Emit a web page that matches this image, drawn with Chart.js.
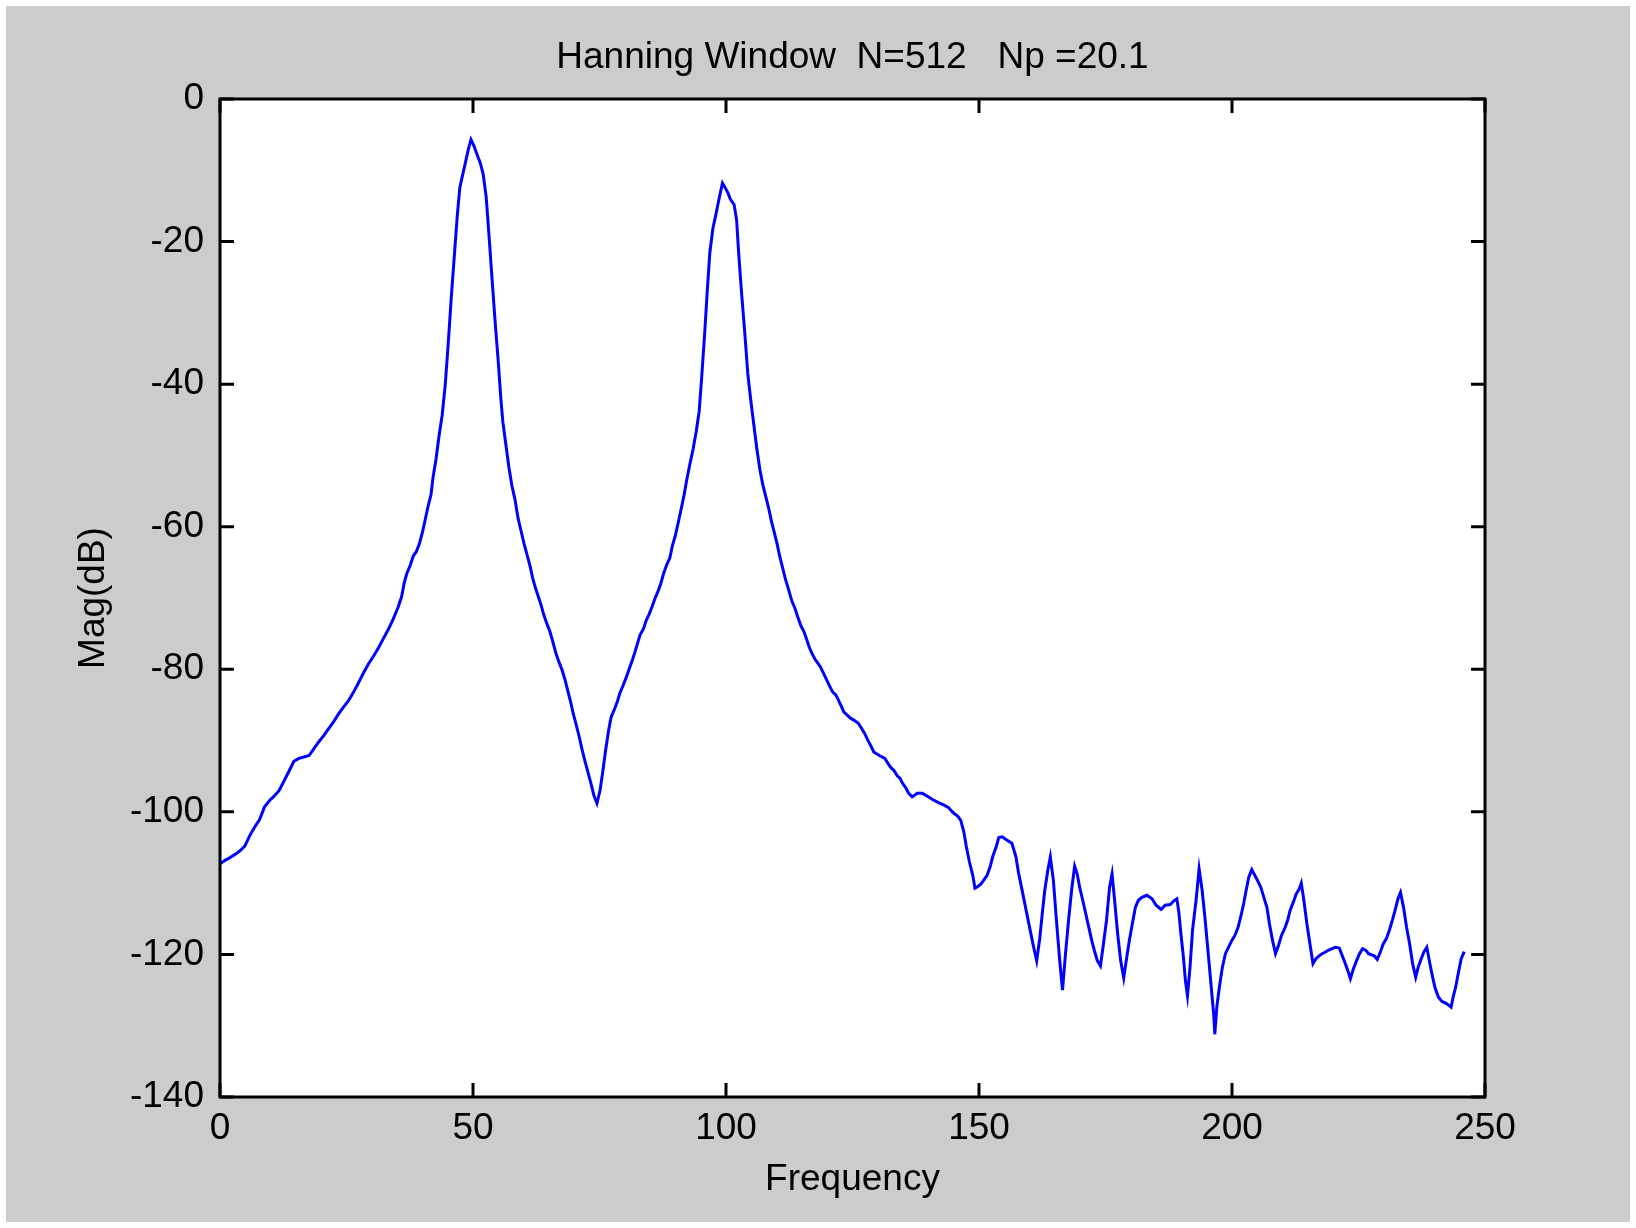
<!DOCTYPE html>
<html>
<head>
<meta charset="utf-8">
<title>Hanning Window</title>
<script src="https://cdn.jsdelivr.net/npm/chart.js@4.4.1/dist/chart.umd.min.js"></script>
<style>
  html, body { margin: 0; padding: 0; background: #fff; }
  #wrap { width: 1636px; height: 1228px; }
</style>
</head>
<body>
<div id="wrap"><canvas id="spec" width="1636" height="1228"></canvas></div>
<script>
const TITLE   = 'Hanning Window  N=512   Np =20.1';
const X_LABEL = 'Frequency';
const Y_LABEL = 'Mag(dB)';
const X_TICKS = [0, 50, 100, 150, 200, 250];
const Y_TICKS = [0, -20, -40, -60, -80, -100, -120, -140];

// Hz
const freq = [
  0, 1.0, 2.0, 2.9, 3.9, 4.9, 5.9, 6.8, 7.8, 8.8, 9.8, 10.7, 11.7, 12.7, 13.7, 14.6, 15.6, 16.6, 17.6, 18.6, 19.5,
  20.5, 21.5, 22.5, 23.4, 24.4, 25.4, 26.4, 27.3, 28.3, 29.3, 30.3, 31.3, 32.2, 33.2, 34.2, 35.2,
  35.9, 36.4, 36.9, 37.6, 38.2, 38.8, 39.4, 40.0, 40.5, 41.1, 41.7, 42.1, 42.7, 43.3, 43.9, 44.5, 45.1, 45.7,
  46.3, 46.9, 47.4, 48.0, 48.6, 49.1, 49.6, 50.2, 50.8, 51.4, 52.0, 52.6, 53.2, 53.8, 54.4, 55.0, 55.5, 55.9,
  56.5, 57.1, 57.7, 58.3, 58.9, 59.5, 60.1, 60.7, 61.3, 61.8, 62.3, 62.9, 63.5, 64.0, 64.6, 65.2, 65.8, 66.4,
  67.0, 67.6, 68.2, 68.8, 69.3, 69.8, 70.4, 71.0, 71.5, 72.1, 72.7, 73.3, 73.9, 74.5, 75.1, 75.6, 76.2, 76.8,
  77.3, 77.9, 78.5, 79.0, 79.7, 80.3, 80.9, 81.5, 82.0, 82.5, 83.0, 83.7, 84.2, 84.8, 85.4, 86.0, 86.6, 87.1,
  87.7, 88.3, 88.9, 89.4, 90.0, 90.6, 91.2, 91.7, 92.3, 92.9, 93.5, 94.1, 94.7, 95.2, 95.8, 96.3, 96.8, 97.4,
  98.0, 98.6, 99.3, 99.8, 100.4, 100.9, 101.6, 102.1, 102.5, 103.1, 103.7, 104.3, 104.9, 105.5, 106.1, 106.7,
  107.3, 107.9, 108.5, 109.0, 109.5, 110.1, 110.6, 111.2, 111.8, 112.4, 113.0, 113.6, 114.2, 114.8, 115.4,
  115.9, 116.4, 117.0, 117.6, 118.1, 118.7, 119.3, 119.9, 120.5, 121.1, 121.7, 122.2, 122.8, 123.3, 123.9,
  124.5, 125.4, 126.2, 126.8, 127.4, 128.0, 128.6, 129.2, 130.3, 131.4, 132.0, 132.6, 133.2, 133.8, 134.4,
  134.9, 135.5, 136.1, 136.8, 137.8, 138.8, 139.8, 140.9, 142.0, 143.2, 144.0, 144.6, 145.2, 145.8, 146.4,
  147.0, 147.5, 148.1, 148.8, 149.2, 149.7, 150.4, 150.9, 151.6, 152.2, 152.7, 153.4, 153.9, 154.6, 155.4,
  156.5, 157.3, 157.8, 158.4, 159.0, 159.6, 160.2, 160.8, 161.4, 162.0, 162.5, 163.0, 163.6, 164.1, 164.7,
  165.3, 165.9, 166.5, 167.1, 167.7, 168.3, 168.9, 169.4, 169.9, 170.5, 171.1, 171.7, 172.3, 172.9, 173.4,
  174.0, 174.6, 175.2, 175.8, 176.3, 176.8, 177.4, 178.0, 178.6, 179.2, 179.7, 180.3, 180.9, 181.5, 182.2,
  183.2, 184.2, 185.0, 186.0, 186.8, 187.8, 188.5, 189.1, 189.5, 189.9, 190.4, 190.8, 191.2, 191.7, 192.2,
  192.9, 193.5, 194.1, 194.7, 195.3, 195.9, 196.4, 196.6, 197.0, 197.5, 198.1, 198.7, 199.3, 200.0, 200.6,
  201.2, 201.8, 202.3, 202.8, 203.3, 203.9, 204.5, 205.1, 205.7, 206.3, 206.9, 207.4, 208.0, 208.6, 209.2,
  209.8, 210.4, 211.0, 211.5, 212.1, 212.7, 213.3, 213.7, 214.2, 214.8, 215.4, 216.0, 216.6, 217.2, 217.8,
  218.4, 219.1, 220.4, 221.2, 221.8, 222.4, 223.0, 223.4, 224.0, 224.6, 225.2, 225.8, 226.4, 227.0, 228.1,
  228.7, 229.3, 229.9, 230.5, 231.1, 231.7, 232.3, 232.8, 233.3, 233.9, 234.5, 235.1, 235.7, 236.3, 236.8,
  237.4, 237.9, 238.5, 239.0, 239.5, 240.1, 240.8, 241.5, 242.4, 243.3, 243.7, 244.2, 244.7, 245.3, 245.9
];

// dB
const mag = [
  -107.3, -106.8, -106.4, -106.0, -105.5, -104.8, -103.3, -102.2, -101.1, -99.3, -98.4, -97.8, -97.0, -95.6, -94.2, -92.9, -92.5, -92.3, -92.1, -91.1, -90.2,
  -89.3, -88.3, -87.3, -86.3, -85.3, -84.4, -83.2, -82.0, -80.6, -79.3, -78.2, -77.0, -75.8, -74.5, -73.0, -71.3,
  -69.8, -67.9, -66.6, -65.4, -64.1, -63.5, -62.4, -60.8, -59.2, -57.2, -55.5, -53.1, -50.5, -47.2, -44.4, -40.2, -34.4, -27.9,
  -22.1, -16.3, -12.4, -10.5, -8.6, -7.0, -5.7, -6.6, -7.8, -8.9, -10.5, -13.7, -19.5, -25.6, -31.5, -36.9, -42.0, -45.3,
  -48.5, -51.7, -54.3, -56.2, -58.8, -60.6, -62.4, -64.0, -65.6, -67.2, -68.5, -69.8, -71.1, -72.4, -73.6, -74.7, -76.2, -77.8,
  -79.0, -80.1, -81.5, -83.2, -84.6, -86.2, -87.8, -89.5, -91.1, -92.8, -94.4, -96.0, -97.7, -98.8, -97.0, -94.6, -91.4, -88.6,
  -86.7, -85.7, -84.6, -83.4, -82.2, -81.1, -79.9, -78.7, -77.6, -76.4, -75.2, -74.3, -73.2, -72.3, -71.2, -70.0, -69.0, -68.0,
  -66.5, -65.3, -64.4, -62.7, -61.2, -59.3, -57.3, -55.6, -53.2, -51.1, -49.1, -46.7, -43.8, -39.0, -32.7, -26.9, -21.6, -18.2,
  -16.2, -14.1, -11.8, -12.4, -13.2, -14.1, -14.8, -17.0, -21.6, -27.4, -32.7, -38.5, -42.3, -45.7, -49.1, -52.0,
  -54.2, -55.9, -57.6, -59.3, -60.7, -62.4, -64.1, -65.8, -67.5, -68.9, -70.4, -71.4, -72.7, -73.9, -74.7,
  -75.7, -76.8, -77.8, -78.6, -79.1, -79.7, -80.6, -81.5, -82.4, -83.2, -83.6, -84.3, -85.2, -86.0, -86.4,
  -86.8, -87.2, -87.6, -88.3, -89.0, -89.9, -90.7, -91.6, -92.1, -92.5, -93.2, -93.8, -94.2, -94.9, -95.3,
  -96.0, -96.6, -97.4, -97.9, -97.4, -97.4, -97.8, -98.3, -98.7, -99.1, -99.4, -99.9, -100.3, -100.6, -101.2,
  -102.8, -104.9, -107.0, -109.0, -110.7, -110.5, -110.1, -109.6, -108.9, -107.7, -106.3, -104.9, -103.6, -103.5, -103.9,
  -104.4, -106.3, -108.5, -110.6, -112.7, -114.8, -116.9, -119.0, -120.9, -117.8, -114.3, -111.0, -108.2, -106.3, -109.6,
  -115.2, -120.4, -125.0, -119.9, -115.2, -111.0, -107.6, -108.7, -110.6, -112.4, -114.3, -116.2, -118.1, -119.7, -120.9,
  -121.6, -118.5, -115.2, -110.6, -108.7, -112.4, -117.1, -120.9, -123.3, -120.4, -118.1, -115.7, -113.4, -112.4, -112.0,
  -111.7, -112.2, -113.1, -113.7, -113.1, -113.0, -112.5, -112.2, -114.1, -117.1, -120.4, -123.7, -125.8, -121.8, -116.6,
  -112.4, -108.0, -111.0, -115.2, -119.9, -124.6, -128.6, -131.2, -127.4, -124.6, -121.8, -119.9, -119.0, -118.0, -117.3,
  -116.2, -114.5, -112.9, -111.0, -109.2, -108.1, -108.9, -109.7, -110.6, -112.0, -113.4, -115.7, -118.0, -119.9, -118.7,
  -117.3, -116.4, -115.2, -113.8, -112.7, -111.5, -110.8, -110.0, -112.4, -115.7, -118.5, -121.3, -120.6, -120.2, -119.9,
  -119.7, -119.4, -119.0, -119.1, -120.2, -121.3, -122.5, -123.4, -122.0, -120.9, -119.9, -119.2, -119.4, -119.9, -120.2,
  -120.7, -119.7, -118.5, -117.8, -116.6, -115.2, -113.6, -112.2, -111.3, -113.4, -116.2, -118.5, -121.3, -123.2, -121.8,
  -120.6, -119.7, -119.0, -120.9, -122.7, -124.6, -126.0, -126.6, -126.9, -127.4, -126.0, -124.6, -122.7, -120.6, -119.6
];

const FONT = 'Liberation Sans, Arial, Helvetica, sans-serif';
const TICK_LEN = 14;

// MATLAB-style figure: gray figure, white box, ticks inside on all four sides
const frame = {
  id: 'frame',
  beforeDraw(chart) {
    const { ctx, width, height, chartArea: a } = chart;
    ctx.save();
    ctx.fillStyle = '#ffffff';
    ctx.fillRect(0, 0, width, height);
    ctx.fillStyle = '#cccccc';
    ctx.fillRect(6, 6, width - 12, height - 12);
    ctx.fillStyle = '#ffffff';
    ctx.fillRect(a.left, a.top, a.right - a.left, a.bottom - a.top);
    ctx.restore();
  },
  afterDatasetsDraw(chart) {
    const { ctx, chartArea: a, scales: { x, y } } = chart;
    ctx.save();
    ctx.strokeStyle = '#000';
    ctx.lineWidth = 3;
    ctx.beginPath();
    X_TICKS.forEach(v => {
      const px = x.getPixelForValue(v);
      ctx.moveTo(px, a.bottom); ctx.lineTo(px, a.bottom - TICK_LEN);
      ctx.moveTo(px, a.top);    ctx.lineTo(px, a.top + TICK_LEN);
    });
    Y_TICKS.forEach(v => {
      const py = y.getPixelForValue(v);
      ctx.moveTo(a.left, py);  ctx.lineTo(a.left + TICK_LEN, py);
      ctx.moveTo(a.right, py); ctx.lineTo(a.right - TICK_LEN, py);
    });
    ctx.stroke();
    ctx.strokeRect(a.left, a.top, a.right - a.left, a.bottom - a.top);
    ctx.restore();
  }
};

new Chart(document.getElementById('spec').getContext('2d'), {
  type: 'line',
  data: {
    datasets: [{
      data: freq.map((f, i) => ({ x: f, y: mag[i] })),
      borderColor: '#0000ff',
      borderWidth: 3,
      pointRadius: 0,
      tension: 0,
      fill: false,
    }]
  },
  options: {
    responsive: false,
    animation: false,
    events: [],
    layout: { padding: { top: 0, right: 151, bottom: 0, left: 0 } },
    plugins: {
      legend: { display: false },
      tooltip: { enabled: false },
      title: {
        display: true,
        text: TITLE,
        fullSize: false,
        color: '#000',
        font: { family: FONT, size: 37, weight: 'normal', lineHeight: 1.2 },
        padding: { top: 36, bottom: 18.6 },
      },
    },
    scales: {
      x: {
        type: 'linear',
        min: 0, max: 250,
        afterBuildTicks: s => { s.ticks = X_TICKS.map(v => ({ value: v })); },
        afterFit: s => { s.height = 131; },
        grid: { display: false, drawTicks: false },
        border: { display: false },
        ticks: { color: '#000', padding: 10, maxRotation: 0, font: { family: FONT, size: 37 } },
        title: {
          display: true, text: X_LABEL, color: '#000',
          font: { family: FONT, size: 37, lineHeight: 1.2 },
          padding: { top: 0, bottom: 26 },
        },
      },
      y: {
        type: 'linear',
        min: -140, max: 0,
        afterBuildTicks: s => { s.ticks = Y_TICKS.map(v => ({ value: v })); },
        afterFit: s => { s.width = 220; },
        grid: { display: false, drawTicks: false },
        border: { display: false },
        ticks: { color: '#000', padding: 16, font: { family: FONT, size: 37 } },
        title: {
          display: true, text: Y_LABEL, color: '#000',
          font: { family: FONT, size: 37, lineHeight: 1.2 },
          padding: { top: 72, bottom: 0 },
        },
      },
    },
  },
  plugins: [frame],
});
</script>
</body>
</html>
